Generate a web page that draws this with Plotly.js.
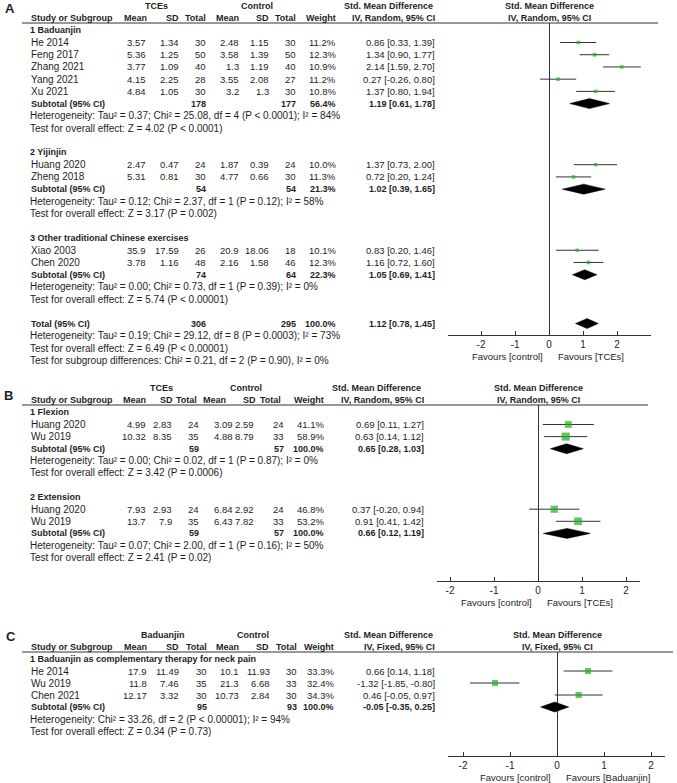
<!DOCTYPE html>
<html><head><meta charset="utf-8">
<script src="https://cdn.plot.ly/plotly-3.0.1.min.js"></script>
<style>html,body{margin:0;padding:0;background:#fff}</style>
</head><body><div id="chart" style="width:677px;height:783px"></div>
<script>
// ---------------- Panel A data ----------------
const studyA = ['He 2014','Feng 2017','Zhang 2021','Yang 2021','Xu 2021','Huang 2020','Zheng 2018','Xiao 2003','Chen 2020'];
const groupA = [0,0,0,0,0,1,1,2,2];
const meanTA = [3.57,5.36,3.77,4.15,4.84,2.47,5.31,35.9,3.78];
const sdTA   = [1.34,1.25,1.09,2.25,1.05,0.47,0.81,17.59,1.16];
const nTA    = [30,50,40,28,30,24,30,26,48];
const meanCA = [2.48,3.58,1.3,3.55,3.2,1.87,4.77,20.9,2.16];
const sdCA   = [1.15,1.39,1.19,2.08,1.3,0.39,0.66,18.06,1.58];
const nCA    = [30,50,40,27,30,24,30,18,46];
const wA     = [11.2,12.3,10.9,11.2,10.8,10.0,11.3,10.1,12.3];
const smdA   = [0.86,1.34,2.14,0.27,1.37,1.37,0.72,0.83,1.16];
const loA    = [0.33,0.90,1.59,-0.26,0.80,0.73,0.20,0.20,0.72];
const hiA    = [1.39,1.77,2.70,0.80,1.94,2.00,1.24,1.46,1.60];
const subNameA = ['1 Baduanjin','2 Yijinjin','3 Other traditional Chinese exercises'];
const subNTA = [178,54,74];
const subNCA = [177,54,64];
const subWA  = [56.4,21.3,22.3];
const subSmdA = [1.19,1.02,1.05];
const subLoA  = [0.61,0.39,0.69];
const subHiA  = [1.78,1.65,1.41];
const subHetA = ['Heterogeneity: Tau² = 0.37; Chi² = 25.08, df = 4 (P < 0.0001); I² = 84%',
                 'Heterogeneity: Tau² = 0.12; Chi² = 2.37, df = 1 (P = 0.12); I² = 58%',
                 'Heterogeneity: Tau² = 0.00; Chi² = 0.73, df = 1 (P = 0.39); I² = 0%'];
const subTestA = ['Test for overall effect: Z = 4.02 (P < 0.0001)',
                  'Test for overall effect: Z = 3.17 (P = 0.002)',
                  'Test for overall effect: Z = 5.74 (P < 0.00001)'];
const totNA = [306,295];
const totWA = 100.0;
const totEstA = [1.12,0.78,1.45];
const totTextA = ['Heterogeneity: Tau² = 0.19; Chi² = 29.12, df = 8 (P = 0.0003); I² = 73%',
                  'Test for overall effect: Z = 6.49 (P < 0.00001)',
                  'Test for subgroup differences: Chi² = 0.21, df = 2 (P = 0.90), I² = 0%'];

// ---------------- Panel B data ----------------
const studyB = ['Huang 2020','Wu 2019','Huang 2020','Wu 2019'];
const groupB = [0,0,1,1];
const meanTB = [4.99,10.32,7.93,13.7];
const sdTB   = [2.83,8.35,2.93,7.9];
const nTB    = [24,35,24,35];
const meanCB = [3.09,4.88,6.84,6.43];
const sdCB   = [2.59,8.79,2.92,7.82];
const nCB    = [24,33,24,33];
const wB     = [41.1,58.9,46.8,53.2];
const smdB   = [0.69,0.63,0.37,0.91];
const loB    = [0.11,0.14,-0.20,0.41];
const hiB    = [1.27,1.12,0.94,1.42];
const subNameB = ['1 Flexion','2 Extension'];
const subNTB = [59,59];
const subNCB = [57,57];
const subWB  = [100.0,100.0];
const subSmdB = [0.65,0.66];
const subLoB  = [0.28,0.12];
const subHiB  = [1.03,1.19];
const subHetB = ['Heterogeneity: Tau² = 0.00; Chi² = 0.02, df = 1 (P = 0.87); I² = 0%',
                 'Heterogeneity: Tau² = 0.07; Chi² = 2.00, df = 1 (P = 0.16); I² = 50%'];
const subTestB = ['Test for overall effect: Z = 3.42 (P = 0.0006)',
                  'Test for overall effect: Z = 2.41 (P = 0.02)'];

// ---------------- Panel C data ----------------
const studyC = ['He 2014','Wu 2019','Chen 2021'];
const groupC = [0,0,0];
const meanTC = [17.9,11.8,12.17];
const sdTC   = [11.49,7.46,3.32];
const nTC    = [30,35,30];
const meanCC = [10.1,21.3,10.73];
const sdCC   = [11.93,6.68,2.84];
const nCC    = [30,33,30];
const wC     = [33.3,32.4,34.3];
const smdC   = [0.66,-1.32,0.46];
const loC    = [0.14,-1.85,-0.05];
const hiC    = [1.18,-0.80,0.97];
const subNameC = ['1 Baduanjin as complementary therapy for neck pain'];
const subNTC = [95];
const subNCC = [93];
const subWC  = [100.0];
const subSmdC = [-0.05];
const subLoC  = [-0.35];
const subHiC  = [0.25];
const subHetC = ['Heterogeneity: Chi² = 33.26, df = 2 (P < 0.00001); I² = 94%'];
const subTestC = ['Test for overall effect: Z = 0.34 (P = 0.73)'];

const tickVals = [-2,-1,0,1,2];
const colHeads = ['Mean','SD','Total','Mean','SD','Total','Weight'];

// ---------------- drawing helpers ----------------
const W = 677, H = 783;
const FONT = 'Liberation Sans, Arial, sans-serif';
const TXT = '#1e1e1e';
const LINE = '#333333';
const GREEN = '#1fae1f';
const SZ_TXT = 10, SZ_NUM = 9.5, SZ_BOLD = 9;
const annotations = [], shapes = [], traces = [], layoutAxes = {};
const esc = s => String(s).replace(/&/g,'&amp;').replace(/</g,'&lt;').replace(/>/g,'&gt;');

function txt(xp, yp, text, anchor, bold, size){
  annotations.push({xref:'paper', yref:'paper', x:xp/W, y:1-yp/H,
    text: bold ? '<b>'+esc(text)+'</b>' : esc(text),
    xanchor:anchor, yanchor:'middle', showarrow:false, borderpad:0,
    font:{family:FONT, size:size||(bold?SZ_BOLD:SZ_TXT), color:TXT}});
}
const f2 = v => v.toFixed(2);
const ciText = (e,l,h) => f2(e)+' ['+f2(l)+', '+f2(h)+']';
const pct = v => v.toFixed(1)+'%';

function panel(cfg, D){
  const k2py = k => cfg.y0 + cfg.s*k;
  const xa = 'x'+cfg.id, ya = 'y'+cfg.id;
  const zeroPx = cfg.zero;
  txt(cfg.letterX, cfg.letterY, cfg.letter, 'left', true, 13);
  txt(cfg.arm1, k2py(-3), D.arm1, 'center', true);
  txt(cfg.arm2, k2py(-3), 'Control', 'center', true);
  txt(cfg.smdHead, k2py(-3), 'Std. Mean Difference', 'center', true);
  txt(zeroPx, k2py(-3), 'Std. Mean Difference', 'center', true);
  const hy = k2py(-2);
  txt(cfg.left, hy, 'Study or Subgroup', 'left', true);
  colHeads.forEach((h,i)=>txt(cfg.hcols[i], hy, h, 'right', true));
  txt(cfg.cols[7], hy, D.method, 'right', true);
  txt(zeroPx, hy, D.method, 'center', true);
  shapes.push({type:'line', xref:'paper', yref:'paper', x0:cfg.lineL/W, x1:cfg.lineR/W,
    y0:1-cfg.top/H, y1:1-cfg.top/H, line:{color:LINE, width:1}});

  const ciX=[], ciY=[], sqX=[], sqY=[], sqS=[];
  const halfH = 5/cfg.s;
  function diamond(e,l,h,k){
    traces.push({type:'scatter', mode:'lines', x:[l,e,h,e,l], y:[k,k-halfH,k,k+halfH,k],
      fill:'toself', fillcolor:'#000', line:{color:'#000', width:0.5},
      xaxis:xa, yaxis:ya, hoverinfo:'skip', showlegend:false});
  }
  let k = -1;
  D.subName.forEach((g,gi)=>{
    txt(cfg.left-1, k2py(k), g, 'left', true); k++;
    D.study.forEach((s,i)=>{
      if(D.grp[i]!==gi) return;
      const y = k2py(k);
      txt(cfg.left, y, s, 'left', false);
      const vals = [D.mT[i], D.sT[i], D.nT[i], D.mC[i], D.sC[i], D.nC[i], pct(D.w[i]), ciText(D.e[i],D.l[i],D.h[i])];
      vals.forEach((v,j)=>txt(cfg.cols[j], y, String(v), 'right', false, SZ_NUM));
      ciX.push(D.l[i], D.h[i], null); ciY.push(k, k, null);
      sqX.push(D.e[i]); sqY.push(k); sqS.push(Math.sqrt(D.w[i])*1.05);
      k++;
    });
    const y = k2py(k);
    txt(cfg.left, y, 'Subtotal (95% CI)', 'left', true);
    txt(cfg.cols[2], y, String(D.subNT[gi]), 'right', true);
    txt(cfg.cols[5], y, String(D.subNC[gi]), 'right', true);
    txt(cfg.cols[6], y, pct(D.subW[gi]), 'right', true);
    txt(cfg.cols[7], y, ciText(D.subE[gi],D.subL[gi],D.subH[gi]), 'right', true);
    diamond(D.subE[gi],D.subL[gi],D.subH[gi],k);
    k++;
    txt(cfg.left-1, k2py(k), D.subHet[gi], 'left', false); k++;
    txt(cfg.left-1, k2py(k), D.subTest[gi], 'left', false); k++;
    k++;
  });
  if(D.tot){
    const y = k2py(k);
    txt(cfg.left, y, 'Total (95% CI)', 'left', true);
    txt(cfg.cols[2], y, String(D.tot.n[0]), 'right', true);
    txt(cfg.cols[5], y, String(D.tot.n[1]), 'right', true);
    txt(cfg.cols[6], y, pct(D.tot.w), 'right', true);
    txt(cfg.cols[7], y, ciText(D.tot.e[0],D.tot.e[1],D.tot.e[2]), 'right', true);
    diamond(D.tot.e[0],D.tot.e[1],D.tot.e[2],k);
    k++;
    D.tot.text.forEach(t=>{ txt(cfg.left-1, k2py(k), t, 'left', false); k++; });
  }
  traces.push({type:'scatter', mode:'lines', x:ciX, y:ciY, line:{color:LINE, width:1},
    xaxis:xa, yaxis:ya, hoverinfo:'skip', showlegend:false});
  traces.push({type:'scatter', mode:'markers', x:sqX, y:sqY,
    marker:{symbol:'square', size:sqS, color:GREEN, line:{width:0}},
    xaxis:xa, yaxis:ya, hoverinfo:'skip', showlegend:false});

  const xKey = 'xaxis'+cfg.id, yKey = 'yaxis'+cfg.id;
  layoutAxes[xKey] = {domain:[cfg.xl/W, cfg.xr/W],
    range:[(cfg.xl-zeroPx)/cfg.unit, (cfg.xr-zeroPx)/cfg.unit],
    anchor:ya, showline:true, linecolor:LINE, linewidth:1,
    zeroline:true, zerolinecolor:LINE, zerolinewidth:1, showgrid:false,
    ticks:'inside', ticklen:4, tickcolor:LINE, tickwidth:1,
    tickvals:tickVals, ticktext:tickVals.map(String),
    tickfont:{family:FONT, size:10, color:TXT}, fixedrange:true};
  layoutAxes[yKey] = {domain:[1-cfg.bot/H, 1-cfg.top/H],
    range:[(cfg.bot-cfg.y0)/cfg.s, (cfg.top-cfg.y0)/cfg.s],
    visible:false, showgrid:false, zeroline:false, fixedrange:true};
  annotations.push({xref:xa, yref:'paper', x:0, y:1-cfg.fav/H, text:'Favours [control]',
    xanchor:'right', yanchor:'middle', xshift:-4, showarrow:false, font:{family:FONT,size:9.5,color:TXT}});
  annotations.push({xref:xa, yref:'paper', x:0, y:1-cfg.fav/H, text:esc('Favours ['+D.fav+']'),
    xanchor:'left', yanchor:'middle', xshift:7, showarrow:false, font:{family:FONT,size:9.5,color:TXT}});
}

panel({id:'', letter:'A', letterX:4, letterY:8, y0:42.5, s:12.22, top:23, bot:335,
  xl:448, xr:651, zero:549, unit:34, fav:356,
  cols:[147,180,207,240,270,297,337,436], hcols:[148,180,207,240,270,297,337],
  left:30, lineL:22, lineR:658, arm1:156, arm2:257, smdHead:388},
  {arm1:'TCEs', method:'IV, Random, 95% CI', fav:'TCEs',
   study:studyA, grp:groupA, mT:meanTA, sT:sdTA, nT:nTA, mC:meanCA, sC:sdCA, nC:nCA,
   w:wA, e:smdA, l:loA, h:hiA, subName:subNameA, subNT:subNTA, subNC:subNCA, subW:subWA,
   subE:subSmdA, subL:subLoA, subH:subHiA, subHet:subHetA, subTest:subTestA,
   tot:{n:totNA, w:totWA, e:totEstA, text:totTextA}});

panel({id:'2', letter:'B', letterX:3, letterY:395, y0:424.5, s:12.1, top:405, bot:581,
  xl:437, xr:640, zero:538, unit:44, fav:602,
  cols:[147,173,200,234,255,285,325,425], hcols:[147,174,198,227,257,282,325],
  left:30, lineL:22, lineR:648, arm1:161, arm2:246, smdHead:376},
  {arm1:'TCEs', method:'IV, Random, 95% CI', fav:'TCEs',
   study:studyB, grp:groupB, mT:meanTB, sT:sdTB, nT:nTB, mC:meanCB, sC:sdCB, nC:nCB,
   w:wB, e:smdB, l:loB, h:hiB, subName:subNameB, subNT:subNTB, subNC:subNCB, subW:subWB,
   subE:subSmdB, subL:subLoB, subH:subHiB, subHet:subHetB, subTest:subTestB});

panel({id:'3', letter:'C', letterX:5, letterY:636, y0:671, s:12, top:652, bot:756,
  xl:448, xr:665, zero:557, unit:47, fav:777,
  cols:[148,180,208,240,271,298,335,436], hcols:[148,180,208,240,270,298,335],
  left:30, lineL:22, lineR:673, arm1:163, arm2:253, smdHead:388},
  {arm1:'Baduanjin', method:'IV, Fixed, 95% CI', fav:'Baduanjin',
   study:studyC, grp:groupC, mT:meanTC, sT:sdTC, nT:nTC, mC:meanCC, sC:sdCC, nC:nCC,
   w:wC, e:smdC, l:loC, h:hiC, subName:subNameC, subNT:subNTC, subNC:subNCC, subW:subWC,
   subE:subSmdC, subL:subLoC, subH:subHiC, subHet:subHetC, subTest:subTestC});

const layout = Object.assign({
  width:W, height:H, margin:{l:0,r:0,t:0,b:0}, paper_bgcolor:'#fff', plot_bgcolor:'rgba(0,0,0,0)',
  showlegend:false, font:{family:FONT, size:9, color:TXT},
  annotations:annotations, shapes:shapes
}, layoutAxes);

Plotly.newPlot('chart', traces, layout, {staticPlot:true, displayModeBar:false});
</script>
</body></html>
